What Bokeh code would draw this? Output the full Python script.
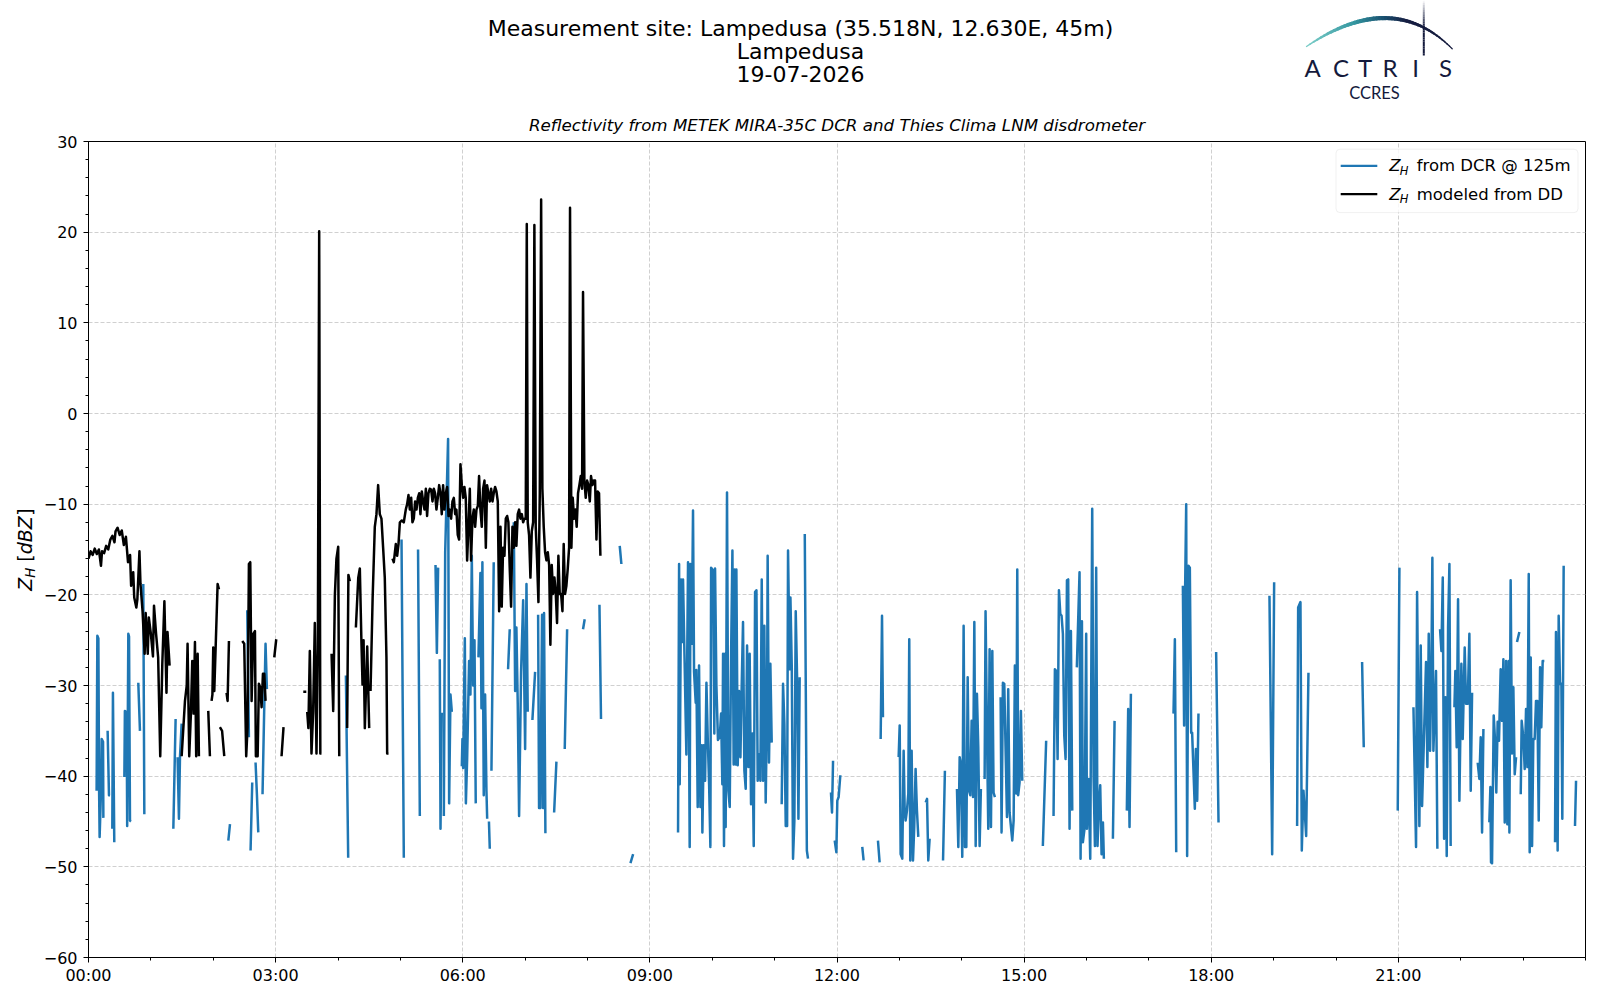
import math
import datetime as dt
import numpy as np
from bokeh.plotting import figure
from bokeh.layouts import column, row
from bokeh.models import (Range1d, FixedTicker, DatetimeTickFormatter, BoxAnnotation,
                          Label, ColumnDataSource)
from bokeh.embed import file_html
from bokeh.resources import INLINE
from bokeh.core.properties import value

# ---------------------------------------------------------------- texts
SUPTITLE = ["Measurement site: Lampedusa (35.518N, 12.630E, 45m)", "Lampedusa", "19-07-2026"]
SUBTITLE = "Reflectivity from METEK MIRA-35C DCR and Thies Clima LNM disdrometer"
LEGEND_REST = ["from DCR @ 125m", "modeled from DD"]
LOGO_LETTERS = ["A", "C", "T", "R", "I", "S"]
LOGO_SUB = "CCRES"
DAY = (2026, 7, 19)
Y_TICKS = [-60, -50, -40, -30, -20, -10, 0, 10, 20, 30]
X_TICK_HOURS = [0, 3, 6, 9, 12, 15, 18, 21]

# ---------------------------------------------------------------- data
# Z_H modeled from disdrometer (minutes after midnight, dBZ); None = gap
dd_minutes = [
    0, 2, 4, 6, 8, 10, 12, 13, 15, 17, 19, 21, 23, 25, 26, 28, 30, 32, 34, 36,
    38, 40, 41, 43, 44, 46, 47, 49, 50, 52, 54, 55, 57, 58, 60, 62, 63, 65, 67, 69,
    71, 73, 75, 76, 78, None,
    89.6, 92.8, 94.5, 95.3, 96.9, 98.5, 99.8, 101.1, 102.4, 103.6, 105.0, 106.2, None,
    115.2, 116.8, None,
    118.4, 119.2, 120.0, 121.0, 124.2, 125.5, None,
    126.4, 128.5, 130.6, None,
    132.8, 133.8, 135.1, None,
    147.9, 149.8, 151.7, 153.0, 154.3, 155.6, 156.9, 158.5, 160.1, 161.0,
    162.7, 163.9, 165.2, 166.5, 167.8, 169.1, 170.3, None,
    178.7, 180.6, None,
    185.7, 187.6, None,
    206.6, 209.5, None,
    210.4, 211.5, 212.9, 214.5, 216.1, 217.7, 219.3, 220.6, 221.9, 223.0, 224.1, None,
    233.8, 235.4, 237.0, 238.5, 240.2, 241.2, None,
    248.8, 250.0, 251.4, None,
    257.2, 259.5, 261.0, 262.5, 263.6, 264.6, 265.8, 268.1, 270.0, None,
    271.3, 273.3, 275.4, 277.0, 278.6, 280.2, 281.8, 283.4, 285.0, 286.6, 287.3, 288.6, None,
    292.4, 293.7, 295.6, 296.9, 298.2, 299.5, 301.4, 303.3, 305.2, 306.5,
    307.8, 309.1, 310.4, 311.6, 312.9, 314.2, 315.5, 316.8, 318.1, 319.3,
    320.6, 321.9, 323.2, 324.5, 325.7, 327.0, 328.3, 329.6, 330.9, 332.2,
    333.4, 334.7, 336.0, 337.3, 338.6, 339.8, 341.1, 342.4, 343.7, 345.0,
    346.3, 347.5, 348.8, 350.1, 351.4, 352.7, 353.9, 355.2, 356.5, 357.8,
    359.1, 360.4, 361.6, 362.9, 364.2, 365.5, 366.8, 368.0, 369.3, 370.6,
    371.9, 373.2, 374.5, 375.7, 377.0, 378.3, 379.6, 380.9, 382.2, 383.4,
    384.7, 386.0, 387.3, 388.6, 389.8, 391.1, 392.4, 393.7, 395.0, 396.3,
    397.5, 398.8, 400.1, 401.4, 402.7, 403.9, 405.2, 406.5, 407.8, 409.1,
    410.4, 411.6, 412.9, 414.2, 415.5, 416.8, 418.1, 419.3, 420.6, 421.6,
    422.5, 423.8, 425.1, 426.4, 427.7, 428.9, 430.2, 431.5, 432.8, 434.1,
    435.4, 436.6, 437.9, 439.2, 440.5, 441.8, 443.1, 444.3, 445.6, 446.9,
    448.2, 449.5, 450.7, 452.0, 453.3, 454.6, 455.9, 457.1, 458.4, 459.7,
    461.0, 462.3, 463.2, 464.5, 465.8, 467.1, 468.4, 469.6, 470.9, 472.2,
    473.5, 474.8, 475.7, 477.0, 478.3, 479.6, 480.9, 482.2, 483.4, 484.7,
    486.0, 487.3, 488.6, 489.8, 491.1, 492.4,
]
dd_zh = [
    -16.0, -15.2, -15.6, -14.9, -15.5, -15.0, -16.8, -15.2, -15.4, -14.6, -15.0, -13.9, -13.5, -14.2, -13.0, -12.6, -13.4, -12.9, -14.5, -13.6,
    -16.4, -15.6, -19.0, -17.5, -20.3, -21.4, -20.5, -15.2, -18.8, -21.8, -26.5, -22.0, -26.5, -22.5, -24.3, -26.8, -21.2, -24.3, -26.9, -37.8,
    -27.6, -20.7, -30.8, -24.1, -27.8, None,
    -37.8, -31.7, -30.0, -25.4, -37.8, -33.1, -27.3, -33.1, -25.2, -37.8, -26.5, -37.8, None,
    -32.8, -37.8, None,
    -31.7, -31.0, -25.8, -30.6, -18.8, -19.4, None,
    -34.6, -35.0, -37.8, None,
    -30.8, -31.7, -25.1, None,
    -25.1, -25.4, -37.8, -34.6, -16.6, -16.4, -31.7, -24.3, -24.0, -37.8,
    -37.8, -29.8, -30.2, -32.4, -28.7, -28.7, -31.7, None,
    -26.9, -24.9, None,
    -37.8, -34.6, None,
    -30.7, -30.7, None,
    -32.9, -34.7, -26.2, -37.5, -32.9, -23.1, -37.5, -26.0, 20.1, -37.5, -37.5, None,
    -26.5, -32.8, -20.0, -16.0, -14.7, -37.8, None,
    -34.7, -17.8, -18.5, None,
    -23.6, -18.1, -17.1, -25.0, -29.9, -25.0, -34.7, -25.7, -34.7, None,
    -30.6, -20.4, -12.5, -11.1, -7.9, -11.1, -11.6, -14.8, -18.1, -26.9, -37.5, -37.5, None,
    -16.0, -16.4, -14.4, -15.7, -14.4, -12.0, -11.8, -12.0, -10.6, -10.0,
    -9.0, -10.6, -9.3, -12.0, -11.6, -9.7, -10.6, -9.3, -8.8, -11.1,
    -8.6, -9.7, -10.6, -8.3, -11.3, -8.8, -8.3, -8.4, -9.7, -8.3,
    -8.8, -10.6, -9.3, -7.9, -8.8, -11.1, -7.9, -10.6, -8.8, -8.1,
    -11.3, -10.6, -11.6, -9.7, -9.3, -11.1, -10.6, -13.4, -13.9, -5.6,
    -7.9, -9.3, -8.1, -9.3, -16.2, -12.5, -8.3, -16.2, -11.6, -10.6,
    -12.5, -10.6, -10.2, -6.9, -10.6, -12.5, -8.3, -7.4, -14.8, -7.9,
    -8.8, -9.7, -8.3, -9.7, -8.8, -8.1, -8.6, -9.7, -21.8, -12.5,
    -21.3, -14.8, -15.7, -11.6, -11.3, -12.0, -17.1, -21.3, -12.5, -14.8,
    -12.0, -14.6, -11.1, -10.6, -11.6, -11.1, -12.0, -11.6, -11.6, 20.9,
    -12.0, -13.4, -18.1, -13.0, -12.0, 20.8, -12.5, -16.2, -20.8, -8.8,
    23.6, -8.3, -12.5, -15.3, -16.2, -15.3, -16.7, -25.5, -16.7, -19.9,
    -18.1, -19.9, -23.1, -15.7, -19.9, -19.9, -21.8, -14.4, -19.9, -19.0,
    -17.1, -14.8, 22.7, -14.8, -9.3, -11.6, -10.6, -12.5, -8.8, -7.9,
    -6.9, -8.3, 13.4, -7.4, -9.3, -7.4, -7.9, -9.7, -6.9, -7.9,
    -7.4, -7.4, -13.9, -8.6, -8.8, -15.7,
]

# Z_H from cloud radar at 125 m (minutes after midnight, dBZ); None = gap
dcr_minutes = [
    7.8, 8.5, 9.5, 10.2, 10.7, 12.2, 12.7, 14.0, 14.3, None,
    18.4, 19.7, 20.7, None,
    22.9, 23.5, 24.8, None,
    34.5, 35.0, 36.7, 37.2, 38.3, 39.0, 39.9, 40.9, None,
    47.9, 49.5, None,
    52.7, 53.7, None,
    81.6, 83.8, None,
    85.7, 87.0, 88.0, 89.6, None,
    134.5, 136.1, None,
    152.7, 154.3, None,
    155.9, 157.5, None,
    160.7, 162.0, 163.3, None,
    167.4, 169.7, 170.3, 171.6, None,
    247.6, 249.8, None,
    301.1, 303.3, None,
    317.0, 318.7, None,
    333.8, 335.1, 336.3, None,
    337.9, 338.6, 339.8, None,
    341.8, 343.1, 345.9, 346.9, 348.2, 349.5, None,
    359.1, 359.7, 360.4, 362.0, 363.0, 364.2, 366.1, 367.4, 368.7, 370.0, 371.3, 372.5, None,
    375.1, 377.0, 378.0, 378.9, 380.2, 381.5, 382.8, 383.5, None,
    385.2, 386.0, None,
    387.6, 389.8, None,
    403.6, 405.2, None,
    409.1, 410.4, 411.6, 412.9, 414.2, 416.1, 418.1, 420.0, 421.3, 422.5, None,
    427.0, 429.6, None,
    432.5, 433.4, 434.7, 436.3, 437.3, 438.2, 439.5, None,
    447.9, 450.1, None,
    458.1, 460.4, None,
    475.7, 477.3, None,
    491.5, 493.0, None,
    511.0, 512.6, None,
    521.3, 523.9, None,
    567.1, 568.1, 568.7, 570.0, 571.3, 571.9, 575.1, 576.7, 578.3, 579.0,
    580.3, 581.5, 582.5, 584.1, 584.7, 586.0, 587.3, 588.6, 589.9, 590.5,
    591.8, 593.1, 594.4, 595.7, 597.0, 598.2, 598.9, 600.8, 602.0, 602.7,
    604.0, 605.5, 607.2, 608.5, 609.7, 610.4, 611.3, 612.3, 612.9, 614.2,
    615.5, 616.8, 618.1, 619.4, 620.6, 621.6, 622.6, 623.2, 624.5, 625.8,
    627.1, 628.3, 629.6, 630.9, 632.2, 633.5, 634.8, 636.0, 637.3, 638.6,
    639.9, 641.2, 642.5, 643.7, 645.0, 646.3, 647.6, 648.9, 650.1, 651.4,
    652.7, 653.3, 654.6, 655.9, 657.2, None,
    666.8, 668.1, 669.4, 670.7, 672.0, 672.9, 674.5, 675.2, 676.5, 677.7, 679.0, 680.3, 681.6, 682.9, 684.1, None,
    689.0, 691.0, 692.1, None,
    714.2, 715.2, 716.2, None,
    717.8, 719.4, 720.3, 721.6, 723.2, None,
    744.3, 745.6, None,
    759.4, 761.0, None,
    762.0, 763.3, 764.2, None,
    779.3, 780.3, 781.2, 782.8, 784.1, 785.1, 786.0, 787.3, 788.6, 789.5,
    790.5, 791.8, 793.1, 794.3, 795.6, 796.9, 798.2, None,
    805.3, 806.6, 807.8, 809.1, None,
    822.0, 823.8, None,
    835.4, 836.7, 838.0, 839.2, 840.5, 841.8, 843.1, 844.4, 845.7, 846.9,
    848.2, 849.5, 850.8, 852.1, 853.4, 854.6, 855.9, 857.2, 858.4, None,
    862.0, 862.9, 864.2, 865.5, 866.8, 868.1, 869.4, 870.6, 871.9, None,
    877.4, 878.3, 879.6, 880.9, 883.5, 884.7, 886.0, 888.6, 889.9, 891.1,
    892.4, 893.4, 894.3, 895.6, 896.9, 898.2, None,
    918.0, 921.2, None,
    928.3, 929.6, 930.9, 932.2, 933.5, 934.8, 936.0, 937.3, 938.6, 939.9, 941.2, 942.4, 943.7, 945.0, 946.3, None,
    950.7, 953.3, 954.3, 955.6, 956.5, 958.1, 959.7, 960.4, 962.0, 963.6,
    965.5, 966.8, 968.1, 969.3, 970.6, 971.9, 973.2, 974.5, 975.8, 976.7, None,
    985.4, 987.0, None,
    998.8, 1000.1, 1001.4, 1002.7, None,
    1043.7, 1045.0, 1046.3, None,
    1052.7, 1053.9, 1054.6, 1055.9, 1056.8, 1058.1, 1059.4, 1060.7, 1061.6, 1064.2, 1065.2, 1066.5, 1067.7, None,
    1084.7, 1087.0, None,
    1136.0, 1138.6, 1140.5, None,
    1162.6, 1163.6, 1165.8, 1167.1, 1168.7, 1171.3, 1173.5, None,
    1225.1, 1226.7, None,
    1259.4, 1261.0, None,
    1274.5, 1277.0, 1278.0, 1280.2, 1281.5, 1282.8, 1286.6, 1287.9, 1289.2, 1290.5, 1291.8, 1292.7, 1293.7, 1296.2, 1297.5, None,
    1300.1, 1301.4, 1302.7, 1304.0, 1305.2, 1306.5, 1307.8, 1309.1, 1310.3, None,
    1313.9, 1314.8, 1316.1, 1317.4, 1318.7, 1320.6, 1321.9, 1323.8, 1325.1, 1326.7, 1328.3, 1329.6, 1330.9, None,
    1336.3, 1337.9, 1339.2, 1340.5, 1341.8, None,
    1347.5, 1348.5, 1349.1, 1350.1, 1351.7, 1353.0, 1354.2, 1355.5, 1356.8, 1358.4,
    1359.7, 1361.0, 1362.3, 1363.6, 1364.8, 1366.1, 1366.8, 1368.0, 1369.3, 1370.6,
    1371.9, 1373.2, None,
    1374.1, 1376.4, None,
    1377.7, 1378.6, 1380.2, 1381.5, 1382.8, 1384.1, 1385.4, 1386.3, 1387.3, 1388.6,
    1389.8, 1391.1, 1392.4, 1393.7, 1395.0, 1396.3, 1397.5, 1398.8, 1400.4, None,
    1410.7, 1411.6, 1413.2, 1414.2, 1415.5, 1416.8, 1417.7, 1419.0, None,
    1429.9, 1430.9,
]
dcr_zh = [
    -41.6, -24.5, -24.8, -41.6, -46.7, -41.0, -35.9, -36.2, -44.6, None,
    -35.0, -42.1, -42.1, None,
    -45.8, -30.8, -47.3, None,
    -40.1, -32.8, -33.0, -45.5, -24.3, -24.6, -44.9, -45.0, None,
    -29.7, -35.0, None,
    -18.8, -44.2, None,
    -45.8, -33.7, None,
    -37.9, -44.7, -37.9, -34.2, None,
    -47.1, -45.3, None,
    -21.7, -35.7, None,
    -48.2, -40.7, None,
    -38.5, -42.0, -46.2, None,
    -42.0, -28.7, -25.4, -30.4, None,
    -28.9, -49.0, None,
    -13.9, -49.0, None,
    -15.0, -44.4, None,
    -16.7, -26.4, -17.0, None,
    -27.1, -45.8, -33.0, None,
    -44.4, -15.3, -2.8, -43.0, -31.0, -32.9, None,
    -38.9, -35.9, -39.1, -24.8, -43.0, -38.2, -27.3, -31.0, -15.7, -30.0, -25.0, -43.0, None,
    -26.9, -17.6, -32.5, -16.4, -42.1, -31.0, -41.6, -44.7, None,
    -45.0, -48.0, None,
    -39.4, -16.4, None,
    -28.2, -23.8, None,
    -12.0, -30.6, -23.6, -32.0, -44.4, -28.5, -20.6, -37.0, -18.8, -32.9, None,
    -33.8, -28.5, None,
    -22.2, -43.5, -43.5, -22.2, -43.5, -22.0, -46.3, None,
    -44.0, -38.4, None,
    -37.0, -23.8, None,
    -23.8, -22.7, None,
    -21.1, -33.7, None,
    -14.6, -16.6, None,
    -49.6, -48.6, None,
    -46.2, -16.6, -40.9, -18.3, -25.2, -18.3, -37.6, -16.4, -47.8, -16.6,
    -25.4, -10.7, -28.5, -31.9, -28.3, -43.4, -27.8, -43.4, -36.6, -46.2,
    -36.6, -40.5, -29.7, -36.0, -41.0, -47.8, -17.0, -17.3, -35.3, -17.1,
    -30.0, -36.0, -35.7, -33.1, -40.9, -26.5, -47.7, -26.5, -45.6, -8.7,
    -41.6, -43.4, -26.9, -15.1, -38.7, -17.2, -38.7, -17.2, -38.8, -30.6,
    -37.9, -30.2, -23.0, -39.4, -41.4, -25.6, -39.0, -26.5, -43.1, -35.3,
    -47.7, -19.7, -19.5, -40.5, -37.6, -40.5, -18.3, -40.5, -23.4, -42.9,
    -32.2, -15.7, -38.5, -27.6, -36.3, None,
    -43.1, -29.8, -34.3, -45.5, -45.5, -15.1, -28.2, -20.3, -28.0, -49.1, -44.9, -21.8, -29.1, -44.7, -29.1, None,
    -13.3, -48.2, -49.1, None,
    -41.8, -44.0, -38.3, None,
    -47.1, -48.4, -42.7, -42.3, -39.9, None,
    -47.8, -49.3, None,
    -47.1, -49.5, None,
    -35.9, -22.3, -33.5, None,
    -37.9, -34.4, -48.6, -49.1, -37.2, -43.8, -44.9, -43.8, -41.9, -24.9,
    -49.3, -37.2, -49.3, -45.6, -39.2, -43.8, -46.7, None,
    -42.9, -42.5, -49.3, -46.9, None,
    -49.3, -39.4, None,
    -41.4, -47.8, -37.9, -38.7, -48.9, -23.4, -47.8, -47.8, -29.1, -41.6,
    -42.1, -33.9, -42.3, -23.0, -47.7, -30.9, -36.8, -47.7, -41.4, None,
    -40.3, -21.8, -34.6, -45.8, -26.0, -45.6, -26.2, -41.8, -42.3, None,
    -31.3, -46.2, -29.7, -29.8, -44.5, -30.4, -44.0, -47.1, -44.9, -27.8,
    -41.9, -17.2, -42.1, -40.7, -32.8, -40.5, None,
    -47.7, -36.1, None,
    -44.4, -28.2, -28.4, -38.1, -19.5, -22.1, -22.3, -24.3, -35.5, -38.1, -18.4, -18.3, -45.8, -24.0, -43.8, None,
    -28.0, -17.5, -49.1, -22.9, -47.3, -45.8, -24.3, -45.8, -40.3, -49.1,
    -10.5, -40.1, -47.7, -17.0, -47.7, -43.1, -41.0, -48.6, -45.1, -49.1, None,
    -46.9, -33.9, None,
    -43.8, -32.6, -45.6, -30.9, None,
    -33.1, -24.9, -48.4, None,
    -19.0, -34.4, -21.8, -10.0, -48.8, -16.8, -17.0, -35.2, -35.2, -43.6, -37.0, -42.7, -33.1, None,
    -26.3, -45.1, None,
    -20.1, -48.6, -18.6, None,
    -45.5, -21.4, -20.8, -48.2, -41.6, -46.6, -28.6, None,
    -27.4, -36.8, None,
    -43.8, -17.0, None,
    -32.4, -47.8, -19.7, -45.5, -25.6, -43.3, -27.4, -39.0, -24.3, -37.2, -27.6, -15.9, -37.2, -28.4, -48.0, None,
    -23.8, -26.2, -18.1, -46.9, -31.3, -48.8, -23.6, -16.6, -47.7, None,
    -32.4, -28.4, -36.8, -20.5, -42.7, -27.6, -35.9, -25.8, -32.0, -32.0, -24.3, -41.6, -30.8, None,
    -38.5, -40.3, -35.7, -46.2, -34.8, None,
    -45.1, -41.2, -49.5, -49.6, -33.3, -36.1, -41.8, -34.0, -36.1, -28.2,
    -33.9, -27.1, -45.1, -27.3, -45.3, -27.3, -46.2, -18.4, -37.5, -30.2,
    -39.8, -37.9, None,
    -25.2, -24.1, None,
    -42.0, -33.9, -35.7, -39.2, -32.6, -39.0, -17.7, -48.4, -26.9, -47.7,
    -35.9, -35.9, -31.7, -31.7, -44.9, -28.0, -34.6, -27.3, -27.3, None,
    -47.3, -24.1, -48.2, -22.3, -29.8, -29.8, -44.7, -16.8, None,
    -45.5, -40.5,
]

assert len(dd_minutes) == len(dd_zh), (len(dd_minutes), len(dd_zh))
assert len(dcr_minutes) == len(dcr_zh), (len(dcr_minutes), len(dcr_zh))

# ---------------------------------------------------------------- helpers
DAY0 = dt.datetime(*DAY, tzinfo=dt.timezone.utc).timestamp() * 1000.0
HOUR_MS = 3600000.0


def series_xy(mins, vals):
    x = np.array([np.nan if m is None else DAY0 + m * 60000.0 for m in mins], dtype=float)
    y = np.array([np.nan if v is None else v for v in vals], dtype=float)
    return x, y


dcr_x, dcr_y = series_xy(dcr_minutes, dcr_zh)
dd_x, dd_y = series_xy(dd_minutes, dd_zh)

# ---------------------------------------------------------------- layout sizes (page pixels)
TOTAL_W = 1592
HEADER_H = 134
MAIN_H = 858
YL_W = 40
BL, BR, BT, BB = 48, 7, 7, 35
PW = TOTAL_W - YL_W
FW = PW - BL - BR          # 1497
FH = MAIN_H - BT - BB      # 816
FRAME_L = YL_W + BL        # 88
FRAME_R = FRAME_L + FW     # 1585
FONT = "DejaVu Sans"
NAVY = "#141a3c"


def bare(fig):
    fig.title.visible = False
    fig.xgrid.visible = False
    fig.ygrid.visible = False
    fig.outline_line_color = None
    fig.background_fill_color = "white"
    fig.border_fill_color = "white"


# ---------------------------------------------------------------- header (titles + logo)
hdr = figure(width=TOTAL_W, height=HEADER_H, x_range=Range1d(FRAME_L, FRAME_R),
             y_range=Range1d(HEADER_H, 0), output_backend="svg", toolbar_location=None,
             min_border_left=FRAME_L, min_border_right=TOTAL_W - FRAME_R,
             min_border_top=0, min_border_bottom=0,
             x_axis_location=None, y_axis_location=None)
bare(hdr)

hdr.text(x=[800, 800, 800], y=[28.3, 51.2, 73.8], text=SUPTITLE, text_align="center",
         text_baseline="middle", text_font=value(FONT), text_font_size="22px", text_color="black")
hdr.text(x=[(FRAME_L + FRAME_R) / 2], y=[124.5], text=[SUBTITLE], text_align="center",
         text_baseline="middle", text_font=value(FONT), text_font_style="italic",
         text_font_size="16.7px", text_color="black")

# logo arc with colour gradient
t = np.linspace(0.0, 1.0, 49)
P0, P1, P2 = (1306.0, 46.0), (1392.0, -12.0), (1451.7, 48.3)
bx = (1 - t) ** 2 * P0[0] + 2 * (1 - t) * t * P1[0] + t ** 2 * P2[0]
by = (1 - t) ** 2 * P0[1] + 2 * (1 - t) * t * P1[1] + t ** 2 * P2[1]
stops = [(0.0, (124, 207, 201)), (0.3, (52, 150, 160)), (0.5, (25, 78, 110)),
         (0.65, (22, 30, 66)), (1.0, (20, 26, 60))]


def grad(tt):
    for (t0, c0), (t1, c1) in zip(stops[:-1], stops[1:]):
        if t0 <= tt <= t1:
            f = (tt - t0) / (t1 - t0)
            c = [int(round(a + (b - a) * f)) for a, b in zip(c0, c1)]
            return "#%02x%02x%02x" % tuple(c)
    return "#%02x%02x%02x" % stops[-1][1]


tm = (t[:-1] + t[1:]) / 2
arc_src = ColumnDataSource(dict(
    xs=[[bx[i], bx[i + 1]] for i in range(len(t) - 1)],
    ys=[[by[i], by[i + 1]] for i in range(len(t) - 1)],
    c=[grad(v) for v in tm],
    w=list(1.2 + 3.0 * np.sin(np.pi * tm ** 0.8) ** 1.2),
))
hdr.multi_line(xs="xs", ys="ys", line_color="c", line_width="w", line_cap="round", source=arc_src)

vy = np.linspace(0, 55, 25)
vsrc = ColumnDataSource(dict(
    xs=[[1423.3, 1423.3] for _ in range(len(vy) - 1)],
    ys=[[vy[i], vy[i + 1]] for i in range(len(vy) - 1)],
    a=[min(1.0, ((vy[i] + vy[i + 1]) / 2) / 26.0) for i in range(len(vy) - 1)],
))
hdr.multi_line(xs="xs", ys="ys", line_color=NAVY, line_alpha="a", line_width=2, source=vsrc)

hdr.text(x=[1312.0, 1340.5, 1364.5, 1389.5, 1415.0, 1445.0], y=[66.7] * 6, text=LOGO_LETTERS,
         text_align="center", text_baseline="middle", text_font=value("Lato"),
         text_font_size="24px", text_color=NAVY)
hdr.text(x=[1374.0], y=[92.0], text=[LOGO_SUB], text_align="center", text_baseline="middle",
         text_font=value("Lato"), text_font_size="16.5px", text_color=NAVY)

# ---------------------------------------------------------------- y-axis label strip
ylab = figure(width=YL_W, height=MAIN_H, x_range=Range1d(0, YL_W), y_range=Range1d(0, FH),
              output_backend="svg", toolbar_location=None,
              min_border_left=0, min_border_right=0, min_border_top=BT, min_border_bottom=BB,
              x_axis_location=None, y_axis_location=None)
bare(ylab)
# pieces of "Z_H [dBZ]" : text, style, size, x (middle line), gap before, advance
YL_SIZE = 19.0
pieces = [("Z", "italic", YL_SIZE, 24.2, 0.0, 13.0),
          ("H", "italic", 13.3, 30.0, 0.0, 10.0),
          ("[", "normal", YL_SIZE, 24.2, 6.0, 7.4),
          ("dBZ", "italic", YL_SIZE, 24.2, 0.0, 38.1),
          ("]", "normal", YL_SIZE, 24.2, 0.5, 7.4)]
total = sum(g + a for _, _, _, _, g, a in pieces)
yy = FH / 2 - total / 2
for txt, style, size, xm, gap, adv in pieces:
    yy += gap
    ylab.text(x=[xm], y=[yy], text=[txt], angle=math.pi / 2, text_align="left",
              text_baseline="middle", text_font=value(FONT), text_font_style=style,
              text_font_size=f"{size}px", text_color="black")
    yy += adv

# ---------------------------------------------------------------- main plot
p = figure(width=PW, height=MAIN_H, x_axis_type="datetime",
           x_range=Range1d(DAY0, DAY0 + 24 * HOUR_MS), y_range=Range1d(-60, 30),
           output_backend="svg", toolbar_location=None,
           min_border_left=BL, min_border_right=BR, min_border_top=BT, min_border_bottom=BB)
p.title.visible = False
p.background_fill_color = "white"
p.border_fill_color = "white"
p.outline_line_color = "black"
p.outline_line_width = 1

p.line(dcr_x, dcr_y, line_color="#1f77b4", line_width=2.5, line_join="round")
p.line(dd_x, dd_y, line_color="black", line_width=2.5, line_join="round")

p.xaxis.ticker = FixedTicker(ticks=[DAY0 + h * HOUR_MS for h in X_TICK_HOURS],
                             minor_ticks=[DAY0 + h * HOUR_MS for h in range(25)])
p.xaxis.formatter = DatetimeTickFormatter(hours="%H:%M", hourmin="%H:%M", minutes="%H:%M",
                                          days="%H:%M", boundary_scaling=False)
p.yaxis.ticker = FixedTicker(ticks=Y_TICKS, minor_ticks=list(range(-60, 31, 2)))
p.yaxis.major_label_overrides = {v: str(v).replace("-", "\u2212") for v in Y_TICKS}

for ax in (p.xaxis[0], p.yaxis[0]):
    ax.axis_line_color = "black"
    ax.axis_line_width = 1
    ax.major_tick_line_color = "black"
    ax.minor_tick_line_color = "black"
    ax.major_tick_in = 0
    ax.major_tick_out = 5
    ax.minor_tick_in = 0
    ax.minor_tick_out = 3
    ax.major_label_text_font = FONT
    ax.major_label_text_font_size = "16px"
    ax.major_label_text_color = "black"
    ax.major_label_standoff = 6
p.xaxis[0].major_label_standoff = 3

for g in (p.xgrid[0], p.ygrid[0]):
    g.grid_line_color = "#d0d0d0"
    g.grid_line_dash = "4 2"
    g.grid_line_width = 1

# legend (frame-relative screen units)
p.add_layout(BoxAnnotation(left=1247.5, right=1489.5, bottom=744.9, top=808.3,
                           left_units="screen", right_units="screen", top_units="screen",
                           bottom_units="screen", fill_color="white", fill_alpha=0.8,
                           line_color="#cccccc", line_width=1, border_radius=4))
for row_y, color, rest in [(791.6, "#1f77b4", LEGEND_REST[0]), (763.3, "black", LEGEND_REST[1])]:
    p.add_layout(BoxAnnotation(left=1252.2, right=1288.8, bottom=row_y - 1.1, top=row_y + 1.1,
                               left_units="screen", right_units="screen", top_units="screen",
                               bottom_units="screen", fill_color=color, fill_alpha=1.0,
                               line_alpha=0.0))
    p.add_layout(Label(x=1300.8, y=row_y, x_units="screen", y_units="screen", text="Z",
                       text_baseline="middle", text_font=FONT, text_font_style="italic",
                       text_font_size="16.5px", text_color="black"))
    p.add_layout(Label(x=1311.3, y=row_y - 5.0, x_units="screen", y_units="screen", text="H",
                       text_baseline="middle", text_font=FONT, text_font_style="italic",
                       text_font_size="11.5px", text_color="black"))
    p.add_layout(Label(x=1328.2, y=row_y, x_units="screen", y_units="screen", text=rest,
                       text_baseline="middle", text_font=FONT, text_font_size="16.5px",
                       text_color="black"))

layout = column(hdr, row(ylab, p))
open("out.html", "w").write(file_html(layout, INLINE))
